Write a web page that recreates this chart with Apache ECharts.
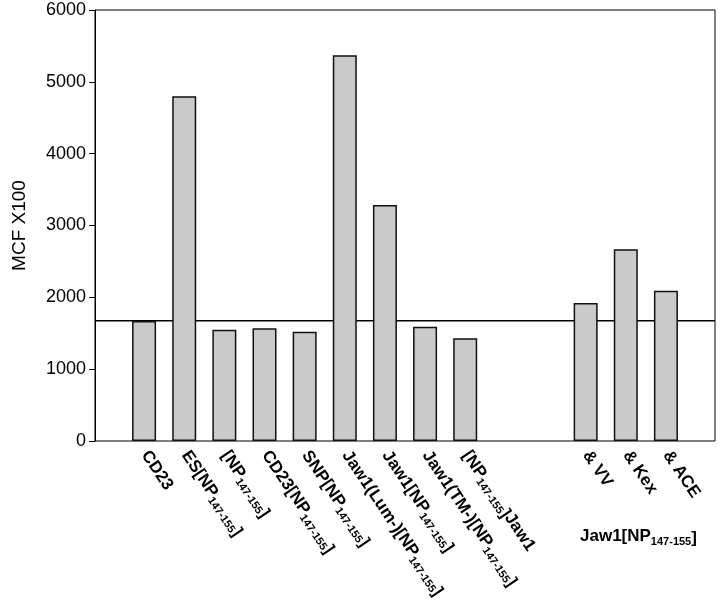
<!DOCTYPE html>
<html>
<head>
<meta charset="utf-8">
<script src="https://cdn.jsdelivr.net/npm/echarts@6/dist/echarts.min.js"></script>
<style>
html, body { margin: 0; padding: 0; background: #fff; }
#chart { width: 720px; height: 609px; }
</style>
</head>
<body>
<div id="chart"></div>
<script>
// bar categories (two empty slots make the gap before the Jaw1 group)
var categories = [
    'CD23', 'ES[NP147-155]', '[NP147-155]', 'CD23[NP147-155]', 'SNP[NP147-155]',
    'Jaw1(Lum-)[NP147-155]', 'Jaw1[NP147-155]', 'Jaw1(TM-)[NP147-155]', '[NP147-155]Jaw1',
    '', '',
    '& VV', '& Kex', '& ACE'
];
var values = [1670, 4800, 1550, 1570, 1520, 5370, 3285, 1590, 1430, null, null, 1920, 2670, 2090];
var refLevel = 1675;
var yTicks = [0, 1000, 2000, 3000, 4000, 5000, 6000];
var groupLabel = 'Jaw1[NP147-155]';

var SUB = '147-155';

// turn "147-155" into a subscript with rich text
function richName(s) {
    if (!s) return '';
    var parts = s.split(SUB);
    var out = '';
    for (var i = 0; i < parts.length; i++) {
        var p = parts[i];
        if (i > 0 && p.charAt(0) === ']') {
            out += '{r|]}';
            p = p.slice(1);
        }
        if (p) out += '{n|' + p + '}';
        if (i < parts.length - 1) out += '{s|' + SUB + '}';
    }
    return out;
}

var rich = {
    n: { fontSize: 17, fontWeight: 'bold', fontFamily: 'Liberation Sans', color: '#000', lineHeight: 19, verticalAlign: 'top' },
    s: { fontSize: 11, fontWeight: 'bold', fontFamily: 'Liberation Sans', color: '#000', lineHeight: 11, verticalAlign: 'bottom' },
    r: { fontSize: 17, fontWeight: 'bold', fontFamily: 'Liberation Sans', color: '#000', lineHeight: 16, verticalAlign: 'bottom' }
};

var myChart = echarts.init(document.getElementById('chart'), null, { renderer: 'canvas' });

var option = {
    animation: false,
    backgroundColor: '#fff',
    title: {
        text: richName(groupLabel),
        left: 575,
        top: 523,
        textStyle: { rich: rich }
    },
    grid: [
        // frame grid, holds the y axis and the reference line
        { left: 95, right: 5, top: 10, bottom: 168, show: true, borderColor: '#000', borderWidth: 1, backgroundColor: 'transparent' },
        // bar grid
        { left: 124, right: 34, top: 10, bottom: 168 }
    ],
    xAxis: [
        { gridIndex: 0, type: 'value', min: 0, max: 1, show: false },
        {
            gridIndex: 1,
            type: 'category',
            data: categories,
            axisLine: { show: false },
            axisTick: { show: false },
            axisLabel: {
                interval: 0,
                rotate: -56,
                margin: 12,
                formatter: function (v) { return richName(v); },
                rich: rich
            }
        }
    ],
    yAxis: [
        {
            gridIndex: 0,
            type: 'value',
            min: 0,
            max: 6000,
            interval: 1000,
            name: 'MCF X100',
            nameLocation: 'middle',
            nameGap: 66,
            nameRotate: 90,
            nameTextStyle: { fontSize: 19, fontFamily: 'Liberation Sans', color: '#000' },
            axisLine: { show: true, lineStyle: { color: '#000', width: 1 } },
            axisTick: { show: true, length: 6, lineStyle: { color: '#000' } },
            axisLabel: {
                fontSize: 18,
                fontFamily: 'Liberation Sans',
                color: '#000',
                margin: 9,
                formatter: function (v) { return yTicks.indexOf(v) >= 0 ? String(v) : ''; }
            },
            splitLine: { show: false }
        },
        { gridIndex: 1, type: 'value', min: 0, max: 6000, show: false }
    ],
    series: [
        {
            type: 'line',
            xAxisIndex: 0,
            yAxisIndex: 0,
            z: 1,
            data: [[0, refLevel], [1, refLevel]],
            symbol: 'none',
            lineStyle: { color: '#000', width: 1.5 },
            silent: true
        },
        {
            type: 'bar',
            xAxisIndex: 1,
            yAxisIndex: 1,
            z: 3,
            data: values,
            barWidth: 24,
            itemStyle: { color: '#cacaca', borderColor: '#111', borderWidth: 1.5 }
        }
    ]
};

myChart.setOption(option);
</script>
</body>
</html>
